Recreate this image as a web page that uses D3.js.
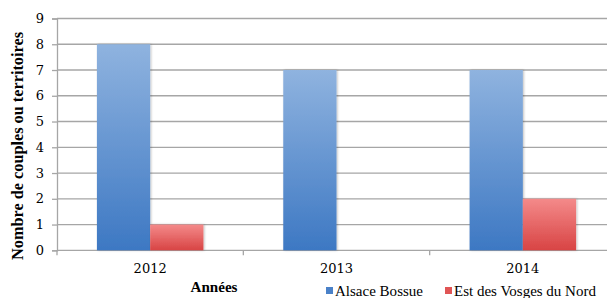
<!DOCTYPE html>
<html><head><meta charset="utf-8">
<script src="https://cdn.jsdelivr.net/npm/d3@7"></script>
<style>body{margin:0;background:#fff}svg{display:block}</style>
</head><body>
<svg id="c" width="607" height="298"></svg>
<script>
(function(){
const categories = ["2012", "2013", "2014"];
const seriesNames = ["Alsace Bossue", "Est des Vosges du Nord"];
const alsaceBossue = [8, 7, 7];
const estVosgesNord = [1, 0, 2];
const yTicks = [0, 1, 2, 3, 4, 5, 6, 7, 8, 9];
const yTitle = "Nombre de couples ou territoires";
const xTitle = "Années";

const svg = d3.select("#c");
const mLeft = 57, mRight = 616, mTop = 18.5, mBottom = 250.3;
const serif = "'DejaVu Serif', 'Liberation Serif', serif";
const serif2 = "'Liberation Serif', 'DejaVu Serif', serif";

function fit(sel, w) {
  const n = sel.node();
  const cur = n.getComputedTextLength();
  const fs = parseFloat(sel.attr("font-size"));
  sel.attr("font-size", (fs * w / cur).toFixed(2));
}

const x = d3.scaleBand().domain(categories).range([mLeft, mRight]).paddingInner(0).paddingOuter(0);
const x1 = d3.scaleBand().domain(seriesNames).range([0, x.bandwidth()]).paddingInner(0).paddingOuter(0.75);
const y = d3.scaleLinear().domain([0, 9]).range([mBottom, mTop]);

const defs = svg.append("defs");
const gradB = defs.append("linearGradient").attr("id", "gb").attr("x1", 0).attr("y1", 0).attr("x2", 0).attr("y2", 1);
gradB.append("stop").attr("offset", 0).attr("stop-color", "#8fb3df");
gradB.append("stop").attr("offset", 1).attr("stop-color", "#3d78c3");
const gradR = defs.append("linearGradient").attr("id", "gr").attr("x1", 0).attr("y1", 0).attr("x2", 0).attr("y2", 1);
gradR.append("stop").attr("offset", 0).attr("stop-color", "#f48a8a");
gradR.append("stop").attr("offset", 1).attr("stop-color", "#d84444");
const flt = defs.append("filter").attr("id", "sh").attr("x", "-10%").attr("y", "-10%").attr("width", "130%").attr("height", "130%");
flt.append("feDropShadow").attr("dx", 1).attr("dy", 0).attr("stdDeviation", 0.8).attr("flood-color", "#000").attr("flood-opacity", 0.25);

// gridlines
svg.append("g").selectAll("line").data(yTicks.filter(d => d > 0)).join("line")
  .attr("x1", mLeft).attr("x2", 607).attr("y1", d => y(d)).attr("y2", d => y(d))
  .attr("stroke", "#a6a6a6").attr("stroke-width", 1.3);

// y axis
const yAxis = d3.axisLeft(y).tickValues(yTicks).tickSize(5).tickPadding(8).tickFormat(d3.format("d"));
const gy = svg.append("g").attr("transform", `translate(${mLeft},0)`).call(yAxis);
gy.select(".domain").attr("stroke", "#a6a6a6").attr("stroke-width", 1.3);
gy.selectAll(".tick line").attr("stroke", "#a6a6a6").attr("stroke-width", 1.3);
gy.selectAll("text").attr("font-family", serif).attr("font-size", 13).attr("fill", "#000");

// x axis
const gx = svg.append("g").attr("transform", `translate(0,${mBottom})`);
gx.append("line").attr("x1", mLeft).attr("x2", 607).attr("stroke", "#a6a6a6").attr("stroke-width", 1.3);
gx.selectAll("line.t").data(categories).join("line").attr("class", "t")
  .attr("x1", d => x(d)).attr("x2", d => x(d)).attr("y1", 0).attr("y2", 5)
  .attr("stroke", "#a6a6a6").attr("stroke-width", 1.3);
gx.selectAll("text").data(categories).join("text")
  .attr("x", d => x(d) + x.bandwidth() / 2).attr("y", 23)
  .attr("text-anchor", "middle").attr("font-family", serif).attr("font-size", 13).text(d => d);

// bars
const rows = categories.map((c, i) => ({ c, vals: [alsaceBossue[i], estVosgesNord[i]] }));
const g = svg.append("g");
rows.forEach(r => {
  r.vals.forEach((v, j) => {
    if (v <= 0) return;
    g.append("rect")
      .attr("x", x(r.c) + x1(seriesNames[j]))
      .attr("width", x1.bandwidth())
      .attr("y", y(v)).attr("height", y(0) - y(v))
      .attr("fill", j === 0 ? "url(#gb)" : "url(#gr)")
      .attr("filter", "url(#sh)");
  });
});

// titles
const yt = svg.append("text").attr("transform", `translate(23,146) rotate(-90)`)
  .attr("text-anchor", "middle").attr("font-family", serif2).attr("font-weight", "bold").attr("font-size", 14).text(yTitle);
fit(yt, 228);
const xt = svg.append("text").attr("x", 214).attr("y", 292).attr("text-anchor", "middle")
  .attr("font-family", serif2).attr("font-weight", "bold").attr("font-size", 15).text(xTitle);
fit(xt, 47);

// legend
const legX = [326, 445];
const legW = [88, 142];
const colors = ["#4a81c8", "#e05555"];
const lg = svg.append("g");
seriesNames.forEach((n, i) => {
  lg.append("rect").attr("x", legX[i]).attr("y", 287).attr("width", 7).attr("height", 7).attr("fill", colors[i]);
  const t = lg.append("text").attr("x", legX[i] + 9).attr("y", 296).attr("font-family", serif2).attr("font-size", 15).text(n);
  fit(t, legW[i]);
});
})();
</script>
</body></html>
